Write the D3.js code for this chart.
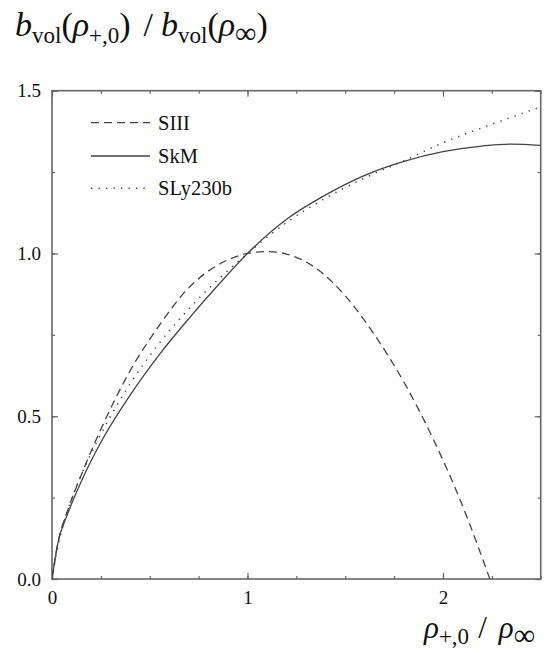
<!DOCTYPE html>
<html>
<head>
<meta charset="utf-8">
<script src="https://cdn.jsdelivr.net/npm/d3@7"></script>
<style>
  body { margin: 0; background: #fff; }
  svg { display: block; font-family: "Liberation Serif", "DejaVu Serif", serif; }
</style>
</head>
<body>
<svg id="chart"></svg>
<script>
// values
const siiiX = [0, 0.03, 0.08, 0.15, 0.25, 0.4, 0.55, 0.7, 0.85, 1.0, 1.1, 1.2, 1.35, 1.5, 1.65, 1.8, 1.95, 2.1, 2.24];
const siiiY = [0, 0.11, 0.21, 0.32, 0.46, 0.64, 0.78, 0.895, 0.965, 1.0, 1.006, 0.998, 0.955, 0.87, 0.75, 0.605, 0.43, 0.225, 0.0];

const skmX = [0, 0.03, 0.08, 0.15, 0.25, 0.4, 0.55, 0.7, 0.85, 1.0, 1.2, 1.4, 1.6, 1.8, 2.0, 2.2, 2.35, 2.5];
const skmY = [0, 0.11, 0.2, 0.3, 0.42, 0.565, 0.69, 0.8, 0.903, 1.0, 1.105, 1.18, 1.24, 1.283, 1.313, 1.33, 1.336, 1.332];

const slyX = [0, 0.03, 0.08, 0.15, 0.25, 0.4, 0.55, 0.7, 0.85, 1.0, 1.2, 1.4, 1.6, 1.8, 2.0, 2.25, 2.5];
const slyY = [0, 0.1, 0.21, 0.32, 0.445, 0.6, 0.725, 0.83, 0.92, 1.0, 1.095, 1.17, 1.232, 1.285, 1.34, 1.397, 1.45];

const seriesNames = ["SIII", "SkM", "SLy230b"];
const xTicks = [0, 1, 2];
const yTicks = [0, 0.5, 1.0, 1.5];

const width = 547, height = 653;
const margin = { left: 52, top: 90.7, right: 6.3, bottom: 74 };

const svg = d3.select("#chart").attr("width", width).attr("height", height);

const x = d3.scaleLinear().domain([0, 2.5]).range([margin.left, width - margin.right]);
const y = d3.scaleLinear().domain([0, 1.5]).range([height - margin.bottom, margin.top]);

const axisColor = "#666";
const lineColor = "#444";

const minorX = d3.range(0, 2.501, 0.25);
const minorY = d3.range(0, 1.501, 0.25);

function styleAxis(g) {
    g.attr("font-family", "'Liberation Serif', serif").attr("font-size", 19);
    g.select(".domain").remove();
    g.selectAll("line").attr("stroke", axisColor).attr("stroke-width", 1.2);
    g.selectAll("text").attr("fill", "#111");
}

// bottom
svg.append("g").attr("transform", `translate(0,${y(0)})`)
    .call(d3.axisBottom(x).tickValues(minorX).tickSize(-3).tickFormat(""))
    .call(styleAxis);
svg.append("g").attr("transform", `translate(0,${y(0)})`)
    .call(d3.axisBottom(x).tickValues(xTicks).tickSize(-6).tickPadding(11.5).tickFormat(d3.format("d")))
    .call(styleAxis);
// top
svg.append("g").attr("transform", `translate(0,${y(1.5)})`)
    .call(d3.axisTop(x).tickValues(minorX).tickSize(-3).tickFormat(""))
    .call(styleAxis);
svg.append("g").attr("transform", `translate(0,${y(1.5)})`)
    .call(d3.axisTop(x).tickValues(xTicks).tickSize(-6).tickFormat(""))
    .call(styleAxis);
// left
svg.append("g").attr("transform", `translate(${x(0)},0)`)
    .call(d3.axisLeft(y).tickValues(minorY).tickSize(-3).tickFormat(""))
    .call(styleAxis);
svg.append("g").attr("transform", `translate(${x(0)},0)`)
    .call(d3.axisLeft(y).tickValues(yTicks).tickSize(-6).tickPadding(11).tickFormat(d3.format(".1f")))
    .call(styleAxis);
// right
svg.append("g").attr("transform", `translate(${x(2.5)},0)`)
    .call(d3.axisRight(y).tickValues(minorY).tickSize(-3).tickFormat(""))
    .call(styleAxis);
svg.append("g").attr("transform", `translate(${x(2.5)},0)`)
    .call(d3.axisRight(y).tickValues(yTicks).tickSize(-6).tickFormat(""))
    .call(styleAxis);

// frame
svg.append("rect")
    .attr("x", x(0)).attr("y", y(1.5))
    .attr("width", x(2.5) - x(0)).attr("height", y(0) - y(1.5))
    .attr("fill", "none").attr("stroke", axisColor).attr("stroke-width", 1.6);

const line = d3.line()
    .x(d => x(d[0]))
    .y(d => y(d[1]))
    .curve(d3.curveMonotoneX);

const series = [
    { name: seriesNames[0], pts: d3.zip(siiiX, siiiY), dash: "8,5", w: 1.3 },
    { name: seriesNames[1], pts: d3.zip(skmX, skmY), dash: null, w: 1.3 },
    { name: seriesNames[2], pts: d3.zip(slyX, slyY), dash: "1.3,6.2", w: 1.5 }
];

svg.append("defs").append("clipPath").attr("id", "plotclip")
    .append("rect")
    .attr("x", x(0)).attr("y", y(1.5))
    .attr("width", x(2.5) - x(0)).attr("height", y(0) - y(1.5));

svg.append("g").attr("clip-path", "url(#plotclip)")
    .selectAll("path")
    .data(series)
    .enter()
    .append("path")
    .attr("d", d => line(d.pts))
    .attr("fill", "none")
    .attr("stroke", lineColor)
    .attr("stroke-width", d => d.w)
    .attr("stroke-dasharray", d => d.dash);

// legend
const legend = svg.append("g");
series.forEach((s, i) => {
    const ly = [122.7, 156, 188.3][i];
    legend.append("line")
        .attr("x1", 91).attr("x2", 150)
        .attr("y1", ly).attr("y2", ly)
        .attr("stroke", lineColor)
        .attr("stroke-width", s.w)
        .attr("stroke-dasharray", s.dash);
    legend.append("text")
        .attr("x", 158).attr("y", ly + 7)
        .style("font-size", "20.5px")
        .attr("fill", "#111")
        .text(s.name);
});

// math-ish labels built from tspans
function addPart(t, parts) {
    parts.forEach(p => {
        const ts = t.append("tspan").text(p.t);
        if (p.i) ts.style("font-style", "italic");
        if (p.size) ts.style("font-size", p.size + "px");
        if (p.dy) ts.attr("dy", p.dy);
        if (p.dx) ts.attr("dx", p.dx);
    });
}

// title  b_vol(rho_{+,0}) / b_vol(rho_inf)
const title = svg.append("text").attr("x", 15).attr("y", 36)
    .style("font-size", "34px").attr("fill", "#111");
addPart(title, [
    { t: "b", i: true },
    { t: "vol", size: 23, dy: 7 },
    { t: "(", dy: -7 },
    { t: "ρ", i: true },
    { t: "+,0", size: 23, dy: 7 },
    { t: ")", dy: -7 },
    { t: "/", dx: 13 },
    { t: "b", i: true, dx: 8 },
    { t: "vol", size: 23, dy: 7 },
    { t: "(", dy: -7 },
    { t: "ρ", i: true },
    { t: "∞", size: 30, dy: 7 },
    { t: ")", dy: -7 }
]);

// x axis label  rho_{+,0} / rho_inf
const xlab = svg.append("text").attr("x", 424).attr("y", 638)
    .style("font-size", "31px").attr("fill", "#111");
addPart(xlab, [
    { t: "ρ", i: true },
    { t: "+,0", size: 23, dy: 6 },
    { t: "/", dy: -6, dx: 9 },
    { t: "ρ", i: true, dx: 12 },
    { t: "∞", size: 30, dy: 7 }
]);
</script>
</body>
</html>
